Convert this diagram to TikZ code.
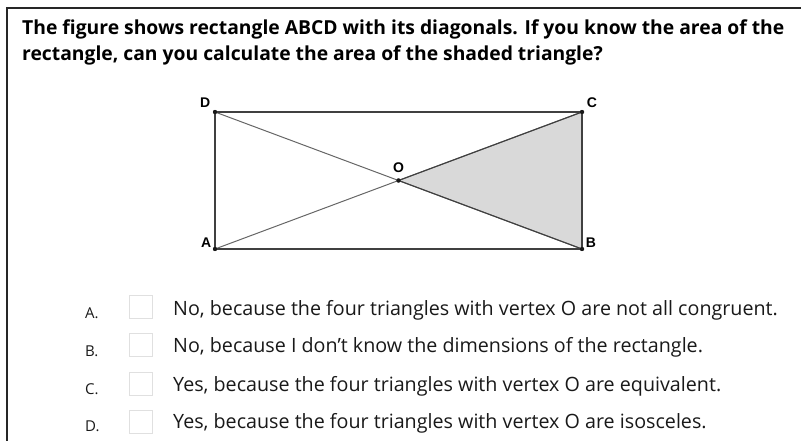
\documentclass[tikz,border=0pt]{standalone}
\usepackage{fontspec}
\setmainfont{Open Sans}
\newfontfamily\labelfont{Liberation Sans}
\usetikzlibrary{positioning}

\begin{document}
\begin{tikzpicture}[x=1pt, y=-1pt,
    vertex/.style={circle, fill=black!90, inner sep=0pt, minimum size=4.2pt},
    vlabel/.style={font=\labelfont\fontsize{14}{16}\selectfont\bfseries, inner sep=0pt},
    side/.style={draw=black!75, line width=1.1pt},
    diag/.style={draw=black!60, line width=1pt},
    question/.style={font=\fontsize{19.3}{23}\selectfont\bfseries, anchor=base west, inner sep=0pt},
    letter/.style={font=\fontsize{15}{17}\selectfont, anchor=base west, inner sep=0pt, text=black!90},
    tickbox/.style={draw=black!12, line width=0.8pt, minimum width=23pt, minimum height=23pt, inner sep=0pt},
    answer/.style={font=\fontsize{19.7}{23}\selectfont, anchor=base west, inner sep=0pt, text=black!90}
  ]
  \useasboundingbox (0,0) rectangle (801,441);
  % frame
  \draw[black!85, line width=1.2pt] (7,441) -- (7,8) -- (801,8);

  % question
  \node[question] (q1) at (22,35) {The figure shows rectangle ABCD with its diagonals. If you know the area of the};
  \node[question] (q2) at (22,61) {rectangle, can you calculate the area of the shaded triangle?};

  % rectangle with diagonals
  \node[vertex] (A) at (215,249) {};
  \node[vertex] (B) at (582,249) {};
  \node[vertex] (C) at (582,112) {};
  \node[vertex] (D) at (215,112) {};
  \node[vertex] (O) at (398.5,180.5) {};

  \fill[black!15] (O.center) -- (C.center) -- (B.center) -- cycle;
  \draw[diag] (A.center) -- (C.center);
  \draw[diag] (D.center) -- (B.center);
  \draw[side] (A.center) -- (B.center) -- (C.center) -- (D.center) -- cycle;
  \draw[black!75, line width=1.1pt] (O.center) -- (C.center);
  \draw[black!75, line width=1.1pt] (O.center) -- (B.center);
  \foreach \v in {A,B,C,D,O} \node[vertex] at (\v) {};

  \node[vlabel, above left=3pt and 3pt of D] (lD) {D};
  \node[vlabel, above right=3pt and 3pt of C] (lC) {C};
  \node[vlabel, above=5pt of O] (lO) {O};
  \node[vlabel, above left=0pt and 2pt of A] (lA) {A};
  \node[vlabel, above right=0pt and 2pt of B] (lB) {B};

  % answers
  \node[letter] (kA) at (85,318) {A.};
  \node[tickbox] (bA) at (140.5,307) {};
  \node[answer] (tA) at (173,315) {No, because the four triangles with vertex O are not all congruent.};

  \node[letter] (kB) at (85,356) {B.};
  \node[tickbox] (bB) at (140.5,344.5) {};
  \node[answer] (tB) at (173,352) {No, because I don’t know the dimensions of the rectangle.};

  \node[letter] (kC) at (85,394) {C.};
  \node[tickbox] (bC) at (140.5,383.5) {};
  \node[answer] (tC) at (173,391) {Yes, because the four triangles with vertex O are equivalent.};

  \node[letter] (kD) at (85,431) {D.};
  \node[tickbox] (bD) at (140.5,421.5) {};
  \node[answer] (tD) at (173,428) {Yes, because the four triangles with vertex O are isosceles.};
\end{tikzpicture}
\end{document}
